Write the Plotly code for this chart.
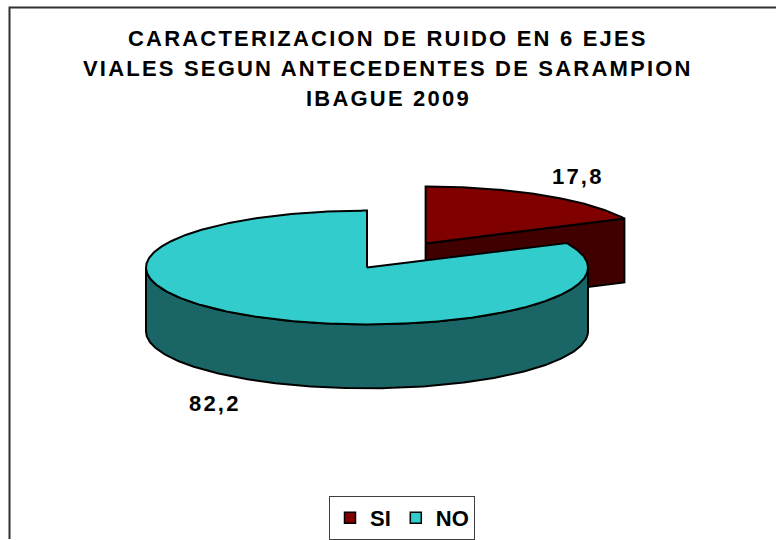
import numpy as np
import plotly.graph_objects as go

# ---- data -------------------------------------------------------------
categories = ["SI", "NO"]
values = [17.8, 82.2]
top_colors = ["#800000", "#33CCCC"]
side_colors = ["#400000", "#1A6666"]
pull = [0.5, 0.0]
title_lines = [
    "CARACTERIZACION DE RUIDO EN 6 EJES",
    "VIALES SEGUN ANTECEDENTES DE SARAMPION",
    "IBAGUE 2009",
]

# ---- layout constants (pixel space) ----------------------------------
W, H = 776, 540
CX, CY = 367, 268          # centre of the pie's top face
RX, RY = 221, 57           # ellipse radii of the tilted disc
DEPTH = 64                 # thickness of the disc
FONT = "Liberation Sans, Arial, sans-serif"
SPACED = "letter-spacing:2.2px"


def rim(cx, cy, t):
    """Point on the top ellipse, angle t in degrees clockwise from 12 o'clock."""
    r = np.radians(t)
    return cx + RX * np.sin(r), cy - RY * np.cos(r)


total = sum(values)
ends = np.cumsum(values) / total * 360.0
starts = np.concatenate([[0.0], ends[:-1]])

slices = []
for cat, v, s, e, p, tc, sc in zip(categories, values, starts, ends, pull,
                                   top_colors, side_colors):
    mid = np.radians((s + e) / 2)
    ax = CX + p * RX * np.sin(mid)
    ay = CY - p * RY * np.cos(mid)
    slices.append(dict(cat=cat, v=v, s=s, e=e, ax=ax, ay=ay, mid=mid,
                       top=tc, side=sc))

fig = go.Figure()


def add_poly(xs, ys, color):
    fig.add_trace(go.Scatter(
        x=list(xs), y=list(ys), mode="lines", fill="toself",
        fillcolor=color, line=dict(color="black", width=2),
        hoverinfo="skip", showlegend=False))


# paint slices from the back to the front
for sl in sorted(slices, key=lambda d: d["ay"]):
    ax, ay, s, e = sl["ax"], sl["ay"], sl["s"], sl["e"]

    # radial cut faces that turn towards the viewer
    for ang, visible in ((s, np.cos(np.radians(s - 90)) < -1e-9),
                         (e, np.sin(np.radians(e)) > 1e-9)):
        if visible:
            px, py = rim(ax, ay, ang)
            add_poly([ax, px, px, ax, ax],
                     [ay, py, py + DEPTH, ay + DEPTH, ay], sl["side"])

    # curved outer wall (front half only)
    a0, a1 = max(s, 90.0), min(e, 270.0)
    if a1 > a0:
        t = np.linspace(a0, a1, 240)
        tx, ty = rim(ax, ay, t)
        add_poly(np.concatenate([tx, tx[::-1], tx[:1]]),
                 np.concatenate([ty, ty[::-1] + DEPTH, ty[:1]]), sl["side"])

    # top face
    t = np.linspace(s, e, max(int((e - s) * 2), 30))
    tx, ty = rim(ax, ay, t)
    add_poly(np.concatenate([[ax], tx, [ax]]),
             np.concatenate([[ay], ty, [ay]]), sl["top"])

# legend entries
for cat, tc in zip(categories, top_colors):
    fig.add_trace(go.Scatter(
        x=[None], y=[None], mode="markers", name=cat,
        marker=dict(symbol="square", size=11, color=tc,
                    line=dict(color="black", width=1.5))))

annotations = []

# value labels just outside each slice
for sl in slices:
    lx = sl["ax"] + 1.3 * RX * np.sin(sl["mid"])
    ly = sl["ay"] - 1.4 * RY * np.cos(sl["mid"])
    if np.cos(sl["mid"]) < 0:
        ly += DEPTH + 4
    annotations.append(dict(
        x=lx, y=ly + 1, xref="x", yref="y", showarrow=False,
        xanchor="center", yanchor="middle",
        text=f'<span style="{SPACED}">' + f"{sl['v']:.1f}".replace(".", ",") + "</span>",
        font=dict(family=FONT, size=22, color="black", weight="bold")))

# title, one line at a time
for i, line in enumerate(title_lines):
    annotations.append(dict(
        x=W / 2, y=39 + 30 * i, xref="x", yref="y", showarrow=False,
        xanchor="center", yanchor="middle",
        text=f'<span style="{SPACED}">{line}</span>',
        font=dict(family=FONT, size=22, color="black", weight="bold")))

fig.update_layout(
    width=W, height=H,
    margin=dict(l=0, r=0, t=0, b=0),
    paper_bgcolor="white", plot_bgcolor="white",
    xaxis=dict(range=[0, W], visible=False, fixedrange=True),
    yaxis=dict(range=[H, 0], visible=False, fixedrange=True),
    annotations=annotations,
    shapes=[dict(type="rect", xref="x", yref="y", x0=9.5, y0=7.5,
                 x1=W + 20, y1=H + 20, line=dict(color="#303030", width=2))],
    showlegend=True,
    legend=dict(orientation="h", x=402 / W, xanchor="center",
                y=1 - 519 / H, yanchor="middle",
                bgcolor="white", bordercolor="#404040", borderwidth=1,
                font=dict(family=FONT, size=22, color="black", weight="bold"),
                itemwidth=30, tracegroupgap=0,
                itemclick=False, itemdoubleclick=False),
)

fig.write_html("out.html")
